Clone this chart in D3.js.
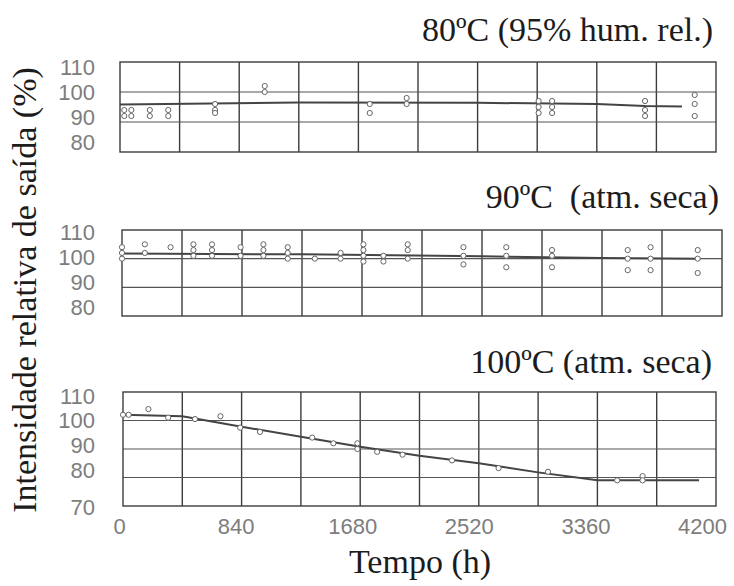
<!DOCTYPE html>
<html>
<head>
<meta charset="utf-8">
<style>
    body { margin: 0; background: #fff; }
    svg { display: block; }
    .titulo {
        font-family: 'Liberation Serif', 'Times New Roman', serif;
        fill: #1c1c1c;
        white-space: pre;
    }
    .rotulo text {
        font-family: 'Liberation Sans', Arial, sans-serif;
        fill: #7d7d7d;
        font-size: 22px;
    }
</style>
</head>
<body>
<svg width="734" height="586"></svg>

<script src="https://d3js.org/d3.v7.min.js"></script>
<script>
    // ticks
    const xTicks = [0, 840, 1680, 2520, 3360, 4200];
    const xGrade = [420, 840, 1260, 1680, 2100, 2520, 2940, 3360, 3780];
    const yTicks80 = [80, 90, 100, 110];
    const yTicks90 = [80, 90, 100, 110];
    const yTicks100 = [70, 80, 90, 100, 110];

    // 80ºC (95% hum. rel.)
    const horas80 = [30, 30, 80, 80, 210, 210, 340, 340, 670, 670, 670, 1020, 1020, 1760, 1760, 2020, 2020,
        2950, 2950, 2950, 3045, 3045, 3045, 3700, 3700, 3700, 4050, 4050, 4050];
    const valores80 = [94, 92, 94, 92, 94, 92, 94, 92, 96, 94, 93, 102, 100, 96, 93, 98, 96,
        97, 95, 93, 97, 95, 93, 97, 94, 92, 99, 96, 92];
    const linhaH80 = [0, 1260, 2520, 3360, 3700, 3960];
    const linhaV80 = [95.8, 96.5, 96.4, 96, 95.3, 95.2];

    // 90ºC (atm. seca)
    const horas90 = [0, 0, 0, 160, 160, 340, 500, 500, 500, 630, 630, 630, 830, 830, 990, 990, 990,
        1160, 1160, 1160, 1350, 1530, 1530, 1690, 1690, 1690, 1690, 1830, 1830, 2000, 2000, 2000,
        2390, 2390, 2390, 2690, 2690, 2690, 3010, 3010, 3010, 3540, 3540, 3540, 3700, 3700, 3700,
        4030, 4030, 4030];
    const valores90 = [104, 102, 100, 105, 102, 104, 105, 103, 101, 105, 103, 101, 104, 101, 105, 103, 101,
        104, 102, 100, 100, 102, 100, 105, 103, 101, 99, 101, 99, 105, 103, 100,
        104, 101, 98, 104, 101, 97, 103, 101, 97, 103, 100, 96, 104, 100, 96,
        103, 100, 95];
    const linhaH90 = [0, 1260, 2520, 3360, 4050];
    const linhaV90 = [101.8, 101.5, 100.8, 100.2, 100];

    // 100ºC (atm. seca)
    const horas100 = [0, 40, 180, 320, 510, 690, 830, 970, 1340, 1490, 1660, 1660, 1800, 1980,
        2330, 2660, 3010, 3500, 3680, 3680];
    const valores100 = [102, 102, 104, 101, 100.5, 101.5, 97.5, 96, 94, 92, 92, 90, 89, 88,
        86, 83.3, 82, 79, 80.5, 79];
    const linhaH100 = [0, 420, 840, 1260, 1680, 2100, 2520, 2940, 3360, 4080];
    const linhaV100 = [102, 101.5, 97.8, 94.3, 90.8, 87.6, 85, 81.8, 79, 79];

    const paineis = [
        { titulo: "80ºC (95% hum. rel.)", tx: 713, ty: 41, x0: 120, x1: 716, y0: 62, y1: 152,
          dom: [80, 110], grade: [90, 100], ticks: yTicks80, rotDom: [80, 110], rotRange: [142, 67],
          horas: horas80, valores: valores80, lh: linhaH80, lv: linhaV80 },
        { titulo: "90ºC  (atm. seca)", tx: 719, ty: 208, x0: 122, x1: 722, y0: 230, y1: 316,
          dom: [80, 110], grade: [90, 100], ticks: yTicks90, rotDom: [80, 110], rotRange: [307, 232],
          horas: horas90, valores: valores90, lh: linhaH90, lv: linhaV90 },
        { titulo: "100ºC (atm. seca)", tx: 712, ty: 373, x0: 123, x1: 716, y0: 392, y1: 506,
          dom: [70, 110], grade: [80, 90, 100], ticks: yTicks100, rotDom: [70, 80, 110], rotRange: [507, 470, 396],
          horas: horas100, valores: valores100, lh: linhaH100, lv: linhaV100 }
    ];

    let svg = d3.select("svg");
    let cor = "#3c3c3c";
    let serif = "'Liberation Serif', 'Times New Roman', serif";

    paineis.forEach(p => {
        let x = d3.scaleLinear().domain([0, 4200]).range([p.x0, p.x1]);
        let y = d3.scaleLinear().domain(p.dom).range([p.y1, p.y0]);
        let g = svg.append("g");

        // grade vertical
        g.selectAll(".gv")
            .data(xGrade)
            .join("line")
            .attr("x1", d => x(d)).attr("x2", d => x(d))
            .attr("y1", p.y0).attr("y2", p.y1)
            .style("stroke", cor)
            .style("stroke-width", 1.4)

        // grade horizontal
        g.selectAll(".gh")
            .data(p.grade)
            .join("line")
            .attr("x1", p.x0).attr("x2", p.x1)
            .attr("y1", d => y(d)).attr("y2", d => y(d))
            .style("stroke", "#555")
            .style("stroke-width", 1.2)

        g.append("rect")
            .attr("x", p.x0).attr("y", p.y0)
            .attr("width", p.x1 - p.x0).attr("height", p.y1 - p.y0)
            .style("fill", "none")
            .style("stroke", cor)
            .style("stroke-width", 1.4)

        // linha ajustada
        let linha = d3.line()
            .x((d, i) => x(p.lh[i]))
            .y(d => y(d));
        g.append("path")
            .datum(p.lv)
            .attr("d", linha)
            .style("fill", "none")
            .style("stroke", "#444")
            .style("stroke-width", 2)

        // pontos
        g.selectAll(".pt")
            .data(p.valores)
            .join("circle")
            .attr("cx", (d, i) => x(p.horas[i]))
            .attr("cy", d => y(d))
            .attr("r", 2.6)
            .style("fill", "#fff")
            .style("stroke", "#666")
            .style("stroke-width", 1)

        // rotulos do eixo y
        let yRot = d3.scaleLinear().domain(p.rotDom).range(p.rotRange);
        g.append("g")
            .attr("class", "rotulo")
            .attr("transform", "translate(95,0)")
            .call(d3.axisLeft(yRot).tickValues(p.ticks).tickSize(0).tickPadding(0))
            .call(a => a.select(".domain").remove())

        g.append("text")
            .attr("class", "titulo")
            .attr("x", p.tx).attr("y", p.ty)
            .attr("text-anchor", "end")
            .style("font-family", serif)
            .style("font-size", "34px")
            .text(p.titulo)
    });

    // eixo x (so no painel de baixo)
    let xRot = d3.scaleLinear().domain([0, 4200]).range([119, 702]);
    svg.append("g")
        .attr("class", "rotulo")
        .attr("transform", "translate(0,518)")
        .call(d3.axisBottom(xRot).tickValues(xTicks).tickFormat(d3.format("d")).tickSize(0).tickPadding(0))
        .call(a => a.select(".domain").remove())

    svg.append("text")
        .attr("class", "titulo")
        .attr("x", 420).attr("y", 573)
        .attr("text-anchor", "middle")
        .style("font-family", serif)
        .style("font-size", "34px")
        .text("Tempo (h)")

    svg.append("text")
        .attr("class", "titulo")
        .attr("transform", "translate(36,290) rotate(-90)")
        .attr("text-anchor", "middle")
        .style("font-family", serif)
        .style("font-size", "34px")
        .text("Intensidade relativa de saída (%)")
</script>
</body>
</html>
